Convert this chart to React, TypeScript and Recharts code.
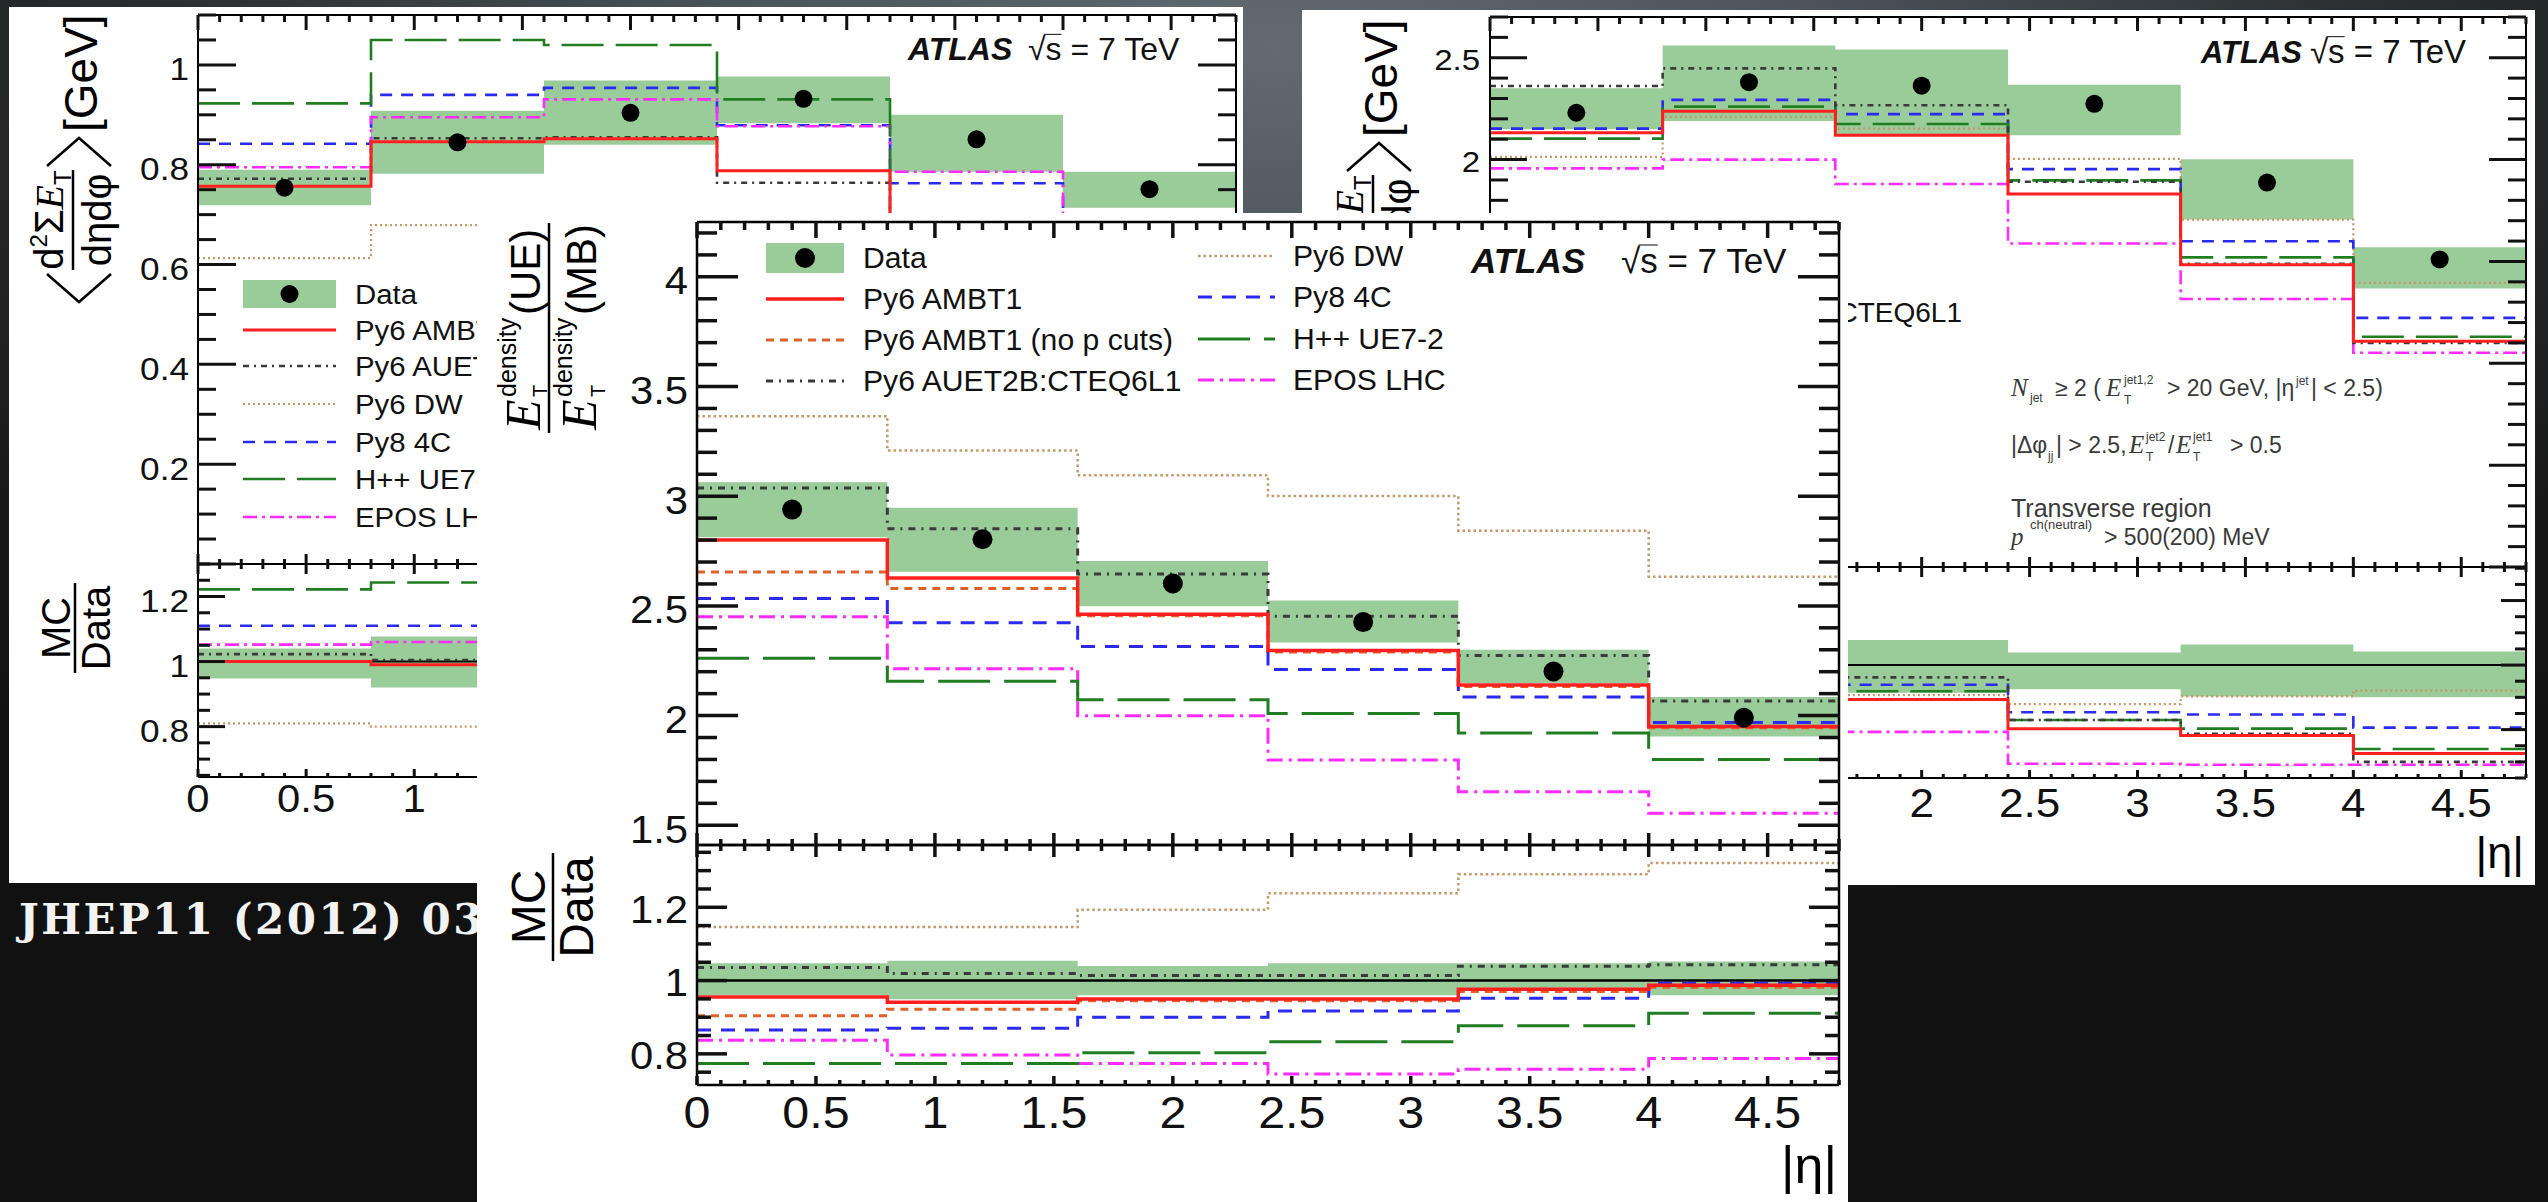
import React from 'react';
import { ComposedChart, Line, Area, Scatter, XAxis, YAxis, ReferenceLine } from 'recharts';

// ---------------- data ----------------
const BIN_EDGES = [0, 0.8, 1.6, 2.4, 3.2, 4.0, 4.8];
const BIN_CENTERS = [0.4, 1.2, 2.0, 2.8, 3.6, 4.4];

// centre panel : E_T density ratio UE / MB
const C_DATA = [2.939, 2.804, 2.602, 2.426, 2.201, 1.99];
const C_BAND_LO = [2.813, 2.656, 2.498, 2.333, 2.148, 1.905];
const C_BAND_HI = [3.064, 2.947, 2.705, 2.525, 2.3, 2.085];
const C_AMBT1 = [2.8, 2.627, 2.462, 2.297, 2.139, 1.95];
const C_AMBT1_NOCUT = [2.655, 2.579, 2.455, 2.29, 2.132, 1.945];
const C_AUET2B = [3.037, 2.852, 2.645, 2.453, 2.274, 2.067];
const C_DW = [3.365, 3.208, 3.095, 3.001, 2.843, 2.633];
const C_PY8 = [2.534, 2.423, 2.315, 2.21, 2.085, 1.968];
const C_HPP = [2.261, 2.157, 2.072, 2.009, 1.92, 1.8];
const C_EPOS = [2.45, 2.214, 1.999, 1.797, 1.653, 1.555];
const CR_BAND_LO = [0.96, 0.949, 0.96, 0.96, 0.976, 0.96];
const CR_BAND_HI = [1.047, 1.054, 1.04, 1.047, 1.047, 1.052];
const CR_AMBT1 = [0.955, 0.941, 0.95, 0.95, 0.976, 0.987];
const CR_AMBT1_NOCUT = [0.904, 0.922, 0.945, 0.945, 0.97, 0.982];
const CR_AUET2B = [1.036, 1.019, 1.014, 1.014, 1.039, 1.043];
const CR_DW = [1.146, 1.146, 1.193, 1.238, 1.29, 1.321];
const CR_PY8 = [0.865, 0.87, 0.9, 0.917, 0.952, 0.993];
const CR_HPP = [0.774, 0.774, 0.803, 0.833, 0.877, 0.911];
const CR_EPOS = [0.837, 0.797, 0.774, 0.745, 0.758, 0.787];

// left panel : <d2 sum ET / deta dphi> [GeV]
const L_DATA = [0.754, 0.845, 0.904, 0.932, 0.851, 0.751];
const L_BAND_LO = [0.719, 0.782, 0.84, 0.883, 0.786, 0.714];
const L_BAND_HI = [0.79, 0.908, 0.969, 0.977, 0.9, 0.786];
const L_AMBT1 = [0.757, 0.846, 0.852, 0.788, 0.68, 0.6];
const L_AUET2B = [0.772, 0.853, 0.855, 0.764, 0.66, 0.585];
const L_DW = [0.613, 0.679, 0.67, 0.65, 0.61, 0.55];
const L_PY8 = [0.842, 0.94, 0.954, 0.879, 0.763, 0.66];
const L_HPP = [0.923, 1.05, 1.04, 0.931, 0.68, 0.59];
const L_EPOS = [0.795, 0.895, 0.931, 0.877, 0.786, 0.66];
const LR_BAND_LO = [0.948, 0.92, 0.93, 0.945, 0.925, 0.95];
const LR_BAND_HI = [1.04, 1.077, 1.07, 1.05, 1.06, 1.05];
const LR_AMBT1 = [1.0, 0.99, 0.94, 0.845, 0.8, 0.8];
const LR_AUET2B = [1.023, 1.005, 0.945, 0.82, 0.78, 0.78];
const LR_DW = [0.81, 0.8, 0.74, 0.7, 0.72, 0.73];
const LR_PY8 = [1.11, 1.11, 1.055, 0.94, 0.9, 0.88];
const LR_HPP = [1.222, 1.243, 1.15, 1.0, 0.8, 0.785];
const LR_EPOS = [1.052, 1.06, 1.03, 0.94, 0.925, 0.88];

// right panel : dijet transverse region
const R_DATA = [2.23, 2.38, 2.363, 2.274, 1.887, 1.51];
const R_BAND_LO = [2.149, 2.19, 2.12, 2.119, 1.706, 1.367];
const R_BAND_HI = [2.35, 2.56, 2.54, 2.367, 2.002, 1.57];
const R_AMBT1 = [2.132, 2.237, 2.119, 1.831, 1.484, 1.108];
const R_AUET2B = [2.361, 2.448, 2.267, 1.891, 1.488, 1.1];
const R_DW = [2.013, 2.21, 2.152, 2.004, 1.705, 1.395];
const R_PY8 = [2.152, 2.293, 2.223, 1.953, 1.599, 1.223];
const R_HPP = [2.103, 2.26, 2.175, 1.898, 1.52, 1.13];
const R_EPOS = [1.957, 2.0, 1.88, 1.588, 1.316, 1.052];
const RR_BAND_LO = [0.96, 0.92, 0.914, 0.925, 0.903, 0.9];
const RR_BAND_HI = [1.05, 1.075, 1.078, 1.039, 1.064, 1.042];
const RR_AMBT1 = [0.956, 0.94, 0.893, 0.803, 0.782, 0.726];
const RR_AUET2B = [1.06, 1.03, 0.962, 0.83, 0.787, 0.7];
const RR_DW = [0.9, 0.93, 0.907, 0.879, 0.903, 0.921];
const RR_PY8 = [0.965, 0.965, 0.939, 0.854, 0.847, 0.806];
const RR_HPP = [0.945, 0.95, 0.919, 0.83, 0.803, 0.74];
const RR_EPOS = [0.878, 0.84, 0.793, 0.694, 0.691, 0.691];

// tick labels
const X_MAJOR = [0, 0.5, 1, 1.5, 2, 2.5, 3, 3.5, 4, 4.5];
const C_X_LABELS = [0, 0.5, 1, 1.5, 2, 2.5, 3, 3.5, 4, 4.5];
const L_X_LABELS = [0, 0.5, 1];
const R_X_LABELS = [2, 2.5, 3, 3.5, 4, 4.5];
const C_Y_LABELS = [1.5, 2, 2.5, 3, 3.5, 4];
const L_Y_LABELS = [0.2, 0.4, 0.6, 0.8, 1];
const R_Y_LABELS = [2, 2.5];
const RATIO_LABELS = [0.8, 1, 1.2];

// legend labels
const LEG_DATA = 'Data';
const LEG_AMBT1 = 'Py6 AMBT1';
const LEG_NOCUT = 'Py6 AMBT1 (no p cuts)';
const LEG_AUET = 'Py6 AUET2B:CTEQ6L1';
const LEG_DW = 'Py6 DW';
const LEG_PY8 = 'Py8 4C';
const LEG_HPP = 'H++ UE7-2';
const LEG_EPOS = 'EPOS LHC';

// ---------------- styles ----------------
const FONT = '"Liberation Sans", Arial, Helvetica, sans-serif';
const SERIF = '"Liberation Serif", "Times New Roman", serif';
const BAND = '#99cc99';
const BG =
  'radial-gradient(ellipse 80% 75% at 50% 4%, #616b71 0%, #4c555a 26%, #2d3134 52%, #181818 80%, #111111 100%)';

type Sty = { color: string; width: number; dash?: string };
const STY_C: Record<string, Sty> = {
  dw: { color: '#c5976a', width: 2.5, dash: '2.5 3' },
  nocut: { color: '#e0602a', width: 3, dash: '8 6' },
  py8: { color: '#2a2af0', width: 3, dash: '14 10' },
  epos: { color: '#ff2bff', width: 3, dash: '16 6 3 6' },
  hpp: { color: '#217d21', width: 3, dash: '52 14' },
  auet: { color: '#3a3a3a', width: 3, dash: '7 6 2 6' },
  ambt1: { color: '#ff1f1f', width: 3.5 },
};
const STY_S: Record<string, Sty> = {
  dw: { color: '#c5976a', width: 2.2, dash: '2 3' },
  py8: { color: '#2a2af0', width: 2.6, dash: '12 9' },
  epos: { color: '#ff2bff', width: 2.6, dash: '14 5 3 5' },
  hpp: { color: '#217d21', width: 2.6, dash: '42 12' },
  auet: { color: '#3a3a3a', width: 2.6, dash: '6 5 2 5' },
  ambt1: { color: '#ff1f1f', width: 3 },
};
const ORDER_C = ['dw', 'nocut', 'py8', 'epos', 'hpp', 'auet', 'ambt1'];
const ORDER_S = ['dw', 'py8', 'epos', 'hpp', 'auet', 'ambt1'];

// ---------------- helpers ----------------
function range(a: number, b: number, step: number): number[] {
  const out: number[] = [];
  const n = Math.round((b - a) / step);
  for (let i = 0; i <= n; i++) out.push(Math.round((a + i * step) * 1000) / 1000);
  return out;
}
const X_TICKS = range(0, 4.8, 0.1);
const has = (arr: number[], v: number) => arr.some((a) => Math.abs(a - v) < 1e-6);
const fmt = (v: number) => String(Math.round(v * 100) / 100);

function stepTable(series: Record<string, number[]>, lo: number[], hi: number[]) {
  return BIN_EDGES.map((x, i) => {
    const j = Math.min(i, 5);
    const row: any = { x, band: [lo[j], hi[j]] };
    Object.keys(series).forEach((k) => {
      row[k] = series[k][j];
    });
    return row;
  });
}
const pointTable = (vals: number[]) => BIN_CENTERS.map((x, i) => ({ x, y: vals[i] }));

type LabCfg = { axis: 'x' | 'y'; labels: number[]; font: number; gap: number; dy: number; sx: number };

function renderLabel(props: any, c: LabCfg) {
  const X = Number(props.x);
  const Y = Number(props.y);
  const v = Number(props.payload && props.payload.value);
  if (!has(c.labels, v)) return <g />;
  if (c.axis === 'y') {
    return (
      <text transform={`translate(${X - c.gap} ${Y + c.dy}) scale(${c.sx} 1)`}
        textAnchor="end" fontSize={c.font} fontFamily={FONT} fill="#111" stroke="none">
        {fmt(v)}
      </text>
    );
  }
  return (
    <text transform={`translate(${X} ${Y + c.dy}) scale(${c.sx} 1)`}
      textAnchor="middle" fontSize={c.font} fontFamily={FONT} fill="#111" stroke="none">
      {fmt(v)}
    </text>
  );
}
const noLabel = () => <g />;

type Box = { x: number; y: number; w: number; h: number };
type PadDef = {
  panel: Box;
  frame: { x0: number; x1: number; y0: number; y1: number };
  yDomain: [number, number];
  yTicks: number[];
  yMajor: number[];
  yLabels: number[];
  yLeft: { maj: number; min: number; font: number; gap: number; dy: number };
  xTop: { maj: number; min: number };
  xBot: { maj: number; min: number; font?: number; dy?: number; labels?: number[] };
  rows: any[];
  points?: { x: number; y: number }[];
  order: string[];
  styles: Record<string, Sty>;
  unity?: boolean;
  frameW: number;
  dotR: number;
  sx: number;
};

function Pad({ d }: { d: PadDef }) {
  const { panel, frame } = d;
  const fx0 = frame.x0 - panel.x;
  const fx1 = frame.x1 - panel.x;
  const fy0 = frame.y0 - panel.y;
  const fy1 = frame.y1 - panel.y;
  const margin = { left: fx0 - 1, right: panel.w - fx1 - 1, top: fy0 - 1, bottom: panel.h - fy1 - 1 };
  const lw = d.frameW;
  const axisLine = { stroke: '#000', strokeWidth: lw };
  const yLab: LabCfg = { axis: 'y', labels: d.yLabels, font: d.yLeft.font, gap: d.yLeft.gap, dy: d.yLeft.dy, sx: d.sx };
  const xLab: LabCfg = { axis: 'x', labels: d.xBot.labels || [], font: d.xBot.font || 0, gap: 0, dy: d.xBot.dy || 0, sx: d.sx };
  const xCommon = { dataKey: 'x', type: 'number' as const, domain: [0, 4.8], allowDataOverflow: true, interval: 0 as const, height: 1, tickMargin: 0, tickSize: 0, tickLine: false, ticks: X_MAJOR };
  const yCommon = { type: 'number' as const, domain: d.yDomain, allowDataOverflow: true, interval: 0 as const, width: 1, tickMargin: 0, tickSize: 0, tickLine: false, ticks: d.yMajor };

  return (
    <div style={{ position: 'absolute', left: 0, top: 0 }}>
      <ComposedChart width={panel.w} height={panel.h} data={d.rows} margin={margin}>
        <XAxis xAxisId="b" orientation="bottom" {...xCommon} axisLine={axisLine}
          tick={d.xBot.font ? (p: any) => renderLabel(p, xLab) : noLabel} />
        <XAxis xAxisId="t" orientation="top" {...xCommon} axisLine={axisLine} tick={noLabel} />
        <YAxis yAxisId="l" orientation="left" {...yCommon} axisLine={axisLine} tick={(p: any) => renderLabel(p, yLab)} />
        <YAxis yAxisId="r" orientation="right" {...yCommon} axisLine={axisLine} tick={noLabel} />
        <Area xAxisId="b" yAxisId="l" dataKey="band" type="stepAfter" stroke="none" fill={BAND} fillOpacity={1}
          isAnimationActive={false} activeDot={false} />
        {d.unity ? <ReferenceLine xAxisId="b" yAxisId="l" y={1} stroke="#000" strokeWidth={lw} /> : null}
        {d.order.map((k) => (
          <Line key={k} xAxisId="b" yAxisId="l" dataKey={k} type="stepAfter" stroke={d.styles[k].color}
            strokeWidth={d.styles[k].width} strokeDasharray={d.styles[k].dash} dot={false} activeDot={false}
            isAnimationActive={false} />
        ))}
        <Line xAxisId="t" yAxisId="r" dataKey={d.order[0]} stroke="none" dot={false} activeDot={false}
          isAnimationActive={false} />
        {d.points ? (
          <Scatter xAxisId="b" yAxisId="l" data={d.points} dataKey="y" isAnimationActive={false}
            shape={(s: any) => <circle cx={s.cx} cy={s.cy} r={d.dotR} fill="#000" />} />
        ) : null}
      </ComposedChart>
    </div>
  );
}

// ROOT-style inward tick marks for a pad frame (axis decoration, same linear mapping as the pad's axes)
function FrameTicks({ d }: { d: PadDef }) {
  const { frame } = d;
  const W = frame.x1 - frame.x0;
  const H = frame.y1 - frame.y0;
  const [d0, d1] = d.yDomain;
  const py = (v: number) => frame.y1 - ((v - d0) / (d1 - d0)) * H;
  const px = (v: number) => frame.x0 + (v / 4.8) * W;
  const tw = d.frameW + 1;
  const out: any[] = [];
  d.yTicks.forEach((v, i) => {
    const L = has(d.yMajor, v) ? d.yLeft.maj : d.yLeft.min;
    const y = py(v);
    out.push(<line key={'l' + i} x1={frame.x0} x2={frame.x0 + L} y1={y} y2={y} stroke="#111" strokeWidth={tw} />);
    out.push(<line key={'r' + i} x1={frame.x1} x2={frame.x1 - L} y1={y} y2={y} stroke="#111" strokeWidth={tw} />);
  });
  X_TICKS.forEach((v, i) => {
    const major = has(X_MAJOR, v);
    const x = px(v);
    const lb = major ? d.xBot.maj : d.xBot.min;
    const lt = major ? d.xTop.maj : d.xTop.min;
    out.push(<line key={'b' + i} x1={x} x2={x} y1={frame.y1} y2={frame.y1 - lb} stroke="#111" strokeWidth={tw} />);
    out.push(<line key={'t' + i} x1={x} x2={x} y1={frame.y0} y2={frame.y0 + lt} stroke="#111" strokeWidth={tw} />);
  });
  return <g>{out}</g>;
}

function Panel({ p, children }: { p: Box; children?: any }) {
  return (
    <div style={{ position: 'absolute', left: p.x, top: p.y, width: p.w, height: p.h, background: '#fff', overflow: 'hidden' }}>
      {children}
    </div>
  );
}

function Overlay({ p, children }: { p: Box; children?: any }) {
  return (
    <svg width={p.w} height={p.h} viewBox={`${p.x} ${p.y} ${p.w} ${p.h}`}
      style={{ position: 'absolute', left: 0, top: 0 }} fontFamily={FONT}>
      {children}
    </svg>
  );
}

type LegItem = { label: string; key?: string };
function LegendCol(props: {
  items: LegItem[]; styles: Record<string, Sty>; x0: number; x1: number; tx: number; rows: number[];
  font: number; boxH: number; dotR: number; sx: number;
}) {
  const { items, styles, x0, x1, tx, rows, font, boxH, dotR, sx } = props;
  return (
    <g>
      {items.map((it, i) => {
        const y = rows[i];
        const s = it.key ? styles[it.key] : null;
        return (
          <g key={i}>
            {s ? (
              <line x1={x0} x2={x1} y1={y} y2={y} stroke={s.color} strokeWidth={s.width} strokeDasharray={s.dash} />
            ) : (
              <g>
                <rect x={x0} y={y - boxH / 2} width={x1 - x0} height={boxH} fill={BAND} />
                <circle cx={(x0 + x1) / 2} cy={y} r={dotR} fill="#000" />
              </g>
            )}
            <text transform={`translate(${tx} ${y + 0.358 * font}) scale(${sx} 1)`} fontSize={font} fill="#111">
              {it.label}
            </text>
          </g>
        );
      })}
    </g>
  );
}

function AtlasLabel({ x1, x2, y, f1, f2 }: { x1: number; x2: number; y: number; f1: number; f2: number }) {
  return (
    <g fill="#111">
      <text x={x1} y={y} fontSize={f1} fontWeight="bold" fontStyle="italic">ATLAS</text>
      <text x={x2} y={y} fontSize={f2}>√s = 7 TeV</text>
      <line x1={x2 + 0.5 * f2} x2={x2 + 1.05 * f2} y1={y - 0.8 * f2} y2={y - 0.8 * f2} stroke="#333" strokeWidth={1.2} />
    </g>
  );
}

function EtTitle({ cx, cy }: { cx: number; cy: number }) {
  return (
    <g transform={`translate(${cx} ${cy}) rotate(-90)`} fill="#000">
      <polyline points="-52,-26 -80,6 -52,38" fill="none" stroke="#000" strokeWidth={2.5} />
      <text x={2} y={-10} fontSize={40} textAnchor="middle">
        d<tspan fontSize={24} dy={-16}>2</tspan>
        <tspan dy={16}>Σ</tspan>
        <tspan fontFamily={SERIF} fontStyle="italic">E</tspan>
        <tspan fontSize={24} dy={8}>T</tspan>
      </text>
      <line x1={-48} x2={52} y1={0} y2={0} stroke="#000" strokeWidth={2.5} />
      <text x={2} y={38} fontSize={40} textAnchor="middle">dηdφ</text>
      <polyline points="56,-26 84,6 56,38" fill="none" stroke="#000" strokeWidth={2.5} />
      <text x={90} y={24} fontSize={46}>[GeV]</text>
    </g>
  );
}

function DensityTitle({ cx, cy }: { cx: number; cy: number }) {
  return (
    <g transform={`translate(${cx} ${cy}) rotate(-90)`} fill="#000">
      <text x={-103} y={-9} fontSize={50} fontFamily={SERIF} fontStyle="italic">E</text>
      <text x={-70} y={-33} fontSize={25}>density</text>
      <text x={-70} y={-2} fontSize={20}>T</text>
      <text x={12} y={-9} fontSize={42}>(UE)</text>
      <line x1={-106} x2={104} y1={0} y2={0} stroke="#000" strokeWidth={2.5} />
      <text x={-103} y={47} fontSize={50} fontFamily={SERIF} fontStyle="italic">E</text>
      <text x={-70} y={23} fontSize={25}>density</text>
      <text x={-70} y={56} fontSize={20}>T</text>
      <text x={12} y={47} fontSize={42}>(MB)</text>
    </g>
  );
}

function MCData({ cx, cy, font, half, numY, denY }: { cx: number; cy: number; font: number; half: number; numY: number; denY: number }) {
  return (
    <g transform={`translate(${cx} ${cy}) rotate(-90)`} fill="#000">
      <text x={0} y={numY} fontSize={font} textAnchor="middle">MC</text>
      <line x1={-half} x2={half} y1={0} y2={0} stroke="#000" strokeWidth={2.5} />
      <text x={0} y={denY} fontSize={font} textAnchor="middle">Data</text>
    </g>
  );
}

// ---------------- layout ----------------
const PL: Box = { x: 9, y: 7, w: 1234, h: 876 };
const PR: Box = { x: 1302, y: 10, w: 1233, h: 875 };
const PC: Box = { x: 477, y: 213, w: 1371, h: 989 };

const C_UP: PadDef = {
  panel: PC, frame: { x0: 697, x1: 1839, y0: 222, y1: 845 },
  yDomain: [1.41, 4.25], yTicks: range(1.5, 4.2, 0.1), yMajor: [1.5, 2, 2.5, 3, 3.5, 4], yLabels: C_Y_LABELS,
  yLeft: { maj: 41, min: 20, font: 38, gap: 9, dy: 17.6 }, xTop: { maj: 16, min: 8 }, xBot: { maj: 12, min: 6 },
  rows: stepTable({ ambt1: C_AMBT1, nocut: C_AMBT1_NOCUT, auet: C_AUET2B, dw: C_DW, py8: C_PY8, hpp: C_HPP, epos: C_EPOS }, C_BAND_LO, C_BAND_HI),
  points: pointTable(C_DATA), order: ORDER_C, styles: STY_C, frameW: 2.5, dotR: 10, sx: 1.1,
};
const C_RAT: PadDef = {
  panel: PC, frame: { x0: 697, x1: 1839, y0: 845, y1: 1085 },
  yDomain: [0.715, 1.37], yTicks: range(0.75, 1.35, 0.05), yMajor: [0.8, 1, 1.2], yLabels: RATIO_LABELS,
  yLeft: { maj: 30, min: 14, font: 38, gap: 9, dy: 15.6 }, xTop: { maj: 12, min: 6 },
  xBot: { maj: 9, min: 5, font: 44, dy: 43, labels: C_X_LABELS },
  rows: stepTable({ ambt1: CR_AMBT1, nocut: CR_AMBT1_NOCUT, auet: CR_AUET2B, dw: CR_DW, py8: CR_PY8, hpp: CR_HPP, epos: CR_EPOS }, CR_BAND_LO, CR_BAND_HI),
  order: ORDER_C, styles: STY_C, unity: true, frameW: 2.5, dotR: 10, sx: 1.1,
};
const L_UP: PadDef = {
  panel: PL, frame: { x0: 198, x1: 1236, y0: 15, y1: 564 },
  yDomain: [0, 1.1], yTicks: range(0, 1.1, 0.05), yMajor: [0, 0.2, 0.4, 0.6, 0.8, 1], yLabels: L_Y_LABELS,
  yLeft: { maj: 38, min: 18, font: 32, gap: 9, dy: 15.5 }, xTop: { maj: 15, min: 7 }, xBot: { maj: 10, min: 5 },
  rows: stepTable({ ambt1: L_AMBT1, auet: L_AUET2B, dw: L_DW, py8: L_PY8, hpp: L_HPP, epos: L_EPOS }, L_BAND_LO, L_BAND_HI),
  points: pointTable(L_DATA), order: ORDER_S, styles: STY_S, frameW: 2, dotR: 9, sx: 1.1,
};
const L_RAT: PadDef = {
  panel: PL, frame: { x0: 198, x1: 1236, y0: 564, y1: 777 },
  yDomain: [0.645, 1.3], yTicks: range(0.65, 1.3, 0.05), yMajor: [0.8, 1, 1.2], yLabels: RATIO_LABELS,
  yLeft: { maj: 27, min: 12, font: 32, gap: 9, dy: 15.5 }, xTop: { maj: 10, min: 5 },
  xBot: { maj: 8, min: 4, font: 38, dy: 35, labels: L_X_LABELS },
  rows: stepTable({ ambt1: LR_AMBT1, auet: LR_AUET2B, dw: LR_DW, py8: LR_PY8, hpp: LR_HPP, epos: LR_EPOS }, LR_BAND_LO, LR_BAND_HI),
  order: ORDER_S, styles: STY_S, unity: true, frameW: 2, dotR: 9, sx: 1.1,
};
const R_UP: PadDef = {
  panel: PR, frame: { x0: 1490, x1: 2526, y0: 17, y1: 567 },
  yDomain: [0, 2.7], yTicks: range(0, 2.7, 0.1), yMajor: [0, 0.5, 1, 1.5, 2, 2.5], yLabels: R_Y_LABELS,
  yLeft: { maj: 37, min: 18, font: 30, gap: 10, dy: 12.7 }, xTop: { maj: 14, min: 7 }, xBot: { maj: 10, min: 5 },
  rows: stepTable({ ambt1: R_AMBT1, auet: R_AUET2B, dw: R_DW, py8: R_PY8, hpp: R_HPP, epos: R_EPOS }, R_BAND_LO, R_BAND_HI),
  points: pointTable(R_DATA), order: ORDER_S, styles: STY_S, frameW: 2, dotR: 9, sx: 1.1,
};
const R_RAT: PadDef = {
  panel: PR, frame: { x0: 1490, x1: 2526, y0: 567, y1: 778 },
  yDomain: [0.65, 1.304], yTicks: range(0.65, 1.3, 0.05), yMajor: [0.8, 1, 1.2], yLabels: [],
  yLeft: { maj: 25, min: 11, font: 30, gap: 10, dy: 12.7 }, xTop: { maj: 10, min: 5 },
  xBot: { maj: 8, min: 4, font: 40, dy: 38.5, labels: R_X_LABELS },
  rows: stepTable({ ambt1: RR_AMBT1, auet: RR_AUET2B, dw: RR_DW, py8: RR_PY8, hpp: RR_HPP, epos: RR_EPOS }, RR_BAND_LO, RR_BAND_HI),
  order: ORDER_S, styles: STY_S, unity: true, frameW: 2, dotR: 9, sx: 1.1,
};

const SIDE_LEGEND: LegItem[] = [
  { label: LEG_DATA }, { label: LEG_AMBT1, key: 'ambt1' }, { label: LEG_AUET, key: 'auet' }, { label: LEG_DW, key: 'dw' },
  { label: LEG_PY8, key: 'py8' }, { label: LEG_HPP, key: 'hpp' }, { label: LEG_EPOS, key: 'epos' },
];
const C_LEG1: LegItem[] = [
  { label: LEG_DATA }, { label: LEG_AMBT1, key: 'ambt1' }, { label: LEG_NOCUT, key: 'nocut' }, { label: LEG_AUET, key: 'auet' },
];
const C_LEG2: LegItem[] = [
  { label: LEG_DW, key: 'dw' }, { label: LEG_PY8, key: 'py8' }, { label: LEG_HPP, key: 'hpp' }, { label: LEG_EPOS, key: 'epos' },
];

export default function App() {
  const ann = { fill: '#3a3a3a' };
  return (
    <div style={{ position: 'absolute', left: 0, top: 0, width: 2548, height: 1202, overflow: 'hidden', background: BG, fontFamily: FONT }}>
      {/* left panel */}
      <Panel p={PL}>
        <Pad d={L_UP} />
        <Pad d={L_RAT} />
        <Overlay p={PL}>
          <FrameTicks d={L_UP} />
          <FrameTicks d={L_RAT} />
          <LegendCol items={SIDE_LEGEND} styles={STY_S} x0={243} x1={336} tx={355}
            rows={[294, 330, 366, 404, 442, 479, 517]} font={28} boxH={28} dotR={9} sx={1.05} />
          <AtlasLabel x1={908} x2={1028} y={60} f1={32} f2={32} />
          <EtTitle cx={73} cy={222} />
          <MCData cx={75} cy={628} font={40} half={45} numY={-5} denY={35} />
        </Overlay>
      </Panel>

      {/* right panel */}
      <Panel p={PR}>
        <Pad d={R_UP} />
        <Pad d={R_RAT} />
        <Overlay p={PR}>
          <FrameTicks d={R_UP} />
          <FrameTicks d={R_RAT} />
          <text x={1962} y={321.6} fontSize={28} textAnchor="end" fill="#111">{LEG_AUET}</text>
          <AtlasLabel x1={2201} x2={2310} y={63} f1={31} f2={33} />
          <EtTitle cx={1373} cy={227} />
          <text x={2524} y={868} fontSize={45} textAnchor="end">|η|</text>
          <g {...ann}>
            <text x={2011} y={396} fontSize={25} fontFamily={SERIF} fontStyle="italic">N</text>
            <text x={2030} y={402} fontSize={12}>jet</text>
            <text x={2055} y={396} fontSize={23}>≥ 2 (</text>
            <text x={2106} y={396} fontSize={25} fontFamily={SERIF} fontStyle="italic">E</text>
            <text x={2124} y={384} fontSize={12}>jet1,2</text>
            <text x={2124} y={404} fontSize={12}>T</text>
            <text x={2167} y={396} fontSize={23}>&gt; 20 GeV, |η</text>
            <text x={2296} y={385} fontSize={12}>jet</text>
            <text x={2311} y={396} fontSize={23}>| &lt; 2.5)</text>

            <text x={2011} y={453} fontSize={23}>|Δφ</text>
            <text x={2048} y={460} fontSize={12}>jj</text>
            <text x={2056} y={453} fontSize={23}>| &gt; 2.5,</text>
            <text x={2129} y={453} fontSize={25} fontFamily={SERIF} fontStyle="italic">E</text>
            <text x={2146} y={441} fontSize={12}>jet2</text>
            <text x={2146} y={461} fontSize={12}>T</text>
            <text x={2168} y={453} fontSize={23}>/</text>
            <text x={2176} y={453} fontSize={25} fontFamily={SERIF} fontStyle="italic">E</text>
            <text x={2193} y={441} fontSize={12}>jet1</text>
            <text x={2193} y={461} fontSize={12}>T</text>
            <text x={2230} y={453} fontSize={23}>&gt; 0.5</text>

            <text x={2011} y={517} fontSize={25}>Transverse region</text>
            <text x={2011} y={545} fontSize={25} fontFamily={SERIF} fontStyle="italic">p</text>
            <text x={2030} y={529} fontSize={13}>ch(neutral)</text>
            <text x={2104} y={545} fontSize={23}>&gt; 500(200) MeV</text>
          </g>
        </Overlay>
      </Panel>

      {/* journal reference */}
      <svg width={2548} height={1202} style={{ position: 'absolute', left: 0, top: 0 }}>
        <text x={19} y={934} fill="#f2f2f2" fontFamily='"DejaVu Serif", serif' fontWeight="bold" fontSize={42} letterSpacing={2.5}>
          JHEP11 (2012) 035
        </text>
      </svg>

      {/* centre panel */}
      <Panel p={PC}>
        <Pad d={C_UP} />
        <Pad d={C_RAT} />
        <Overlay p={PC}>
          <FrameTicks d={C_UP} />
          <FrameTicks d={C_RAT} />
          <LegendCol items={C_LEG1} styles={STY_C} x0={766} x1={844} tx={863}
            rows={[258, 299, 340, 381]} font={29} boxH={30} dotR={10} sx={1.04} />
          <LegendCol items={C_LEG2} styles={STY_C} x0={1198} x1={1275} tx={1293}
            rows={[256, 297, 339, 380]} font={29} boxH={30} dotR={10} sx={1.04} />
          <AtlasLabel x1={1471} x2={1621} y={273} f1={35} f2={35} />
          <DensityTitle cx={549} cy={327} />
          <MCData cx={553} cy={907} font={48} half={54} numY={-8} denY={40} />
          <text x={1837} y={1183} fontSize={52} textAnchor="end">|η|</text>
        </Overlay>
      </Panel>
    </div>
  );
}
